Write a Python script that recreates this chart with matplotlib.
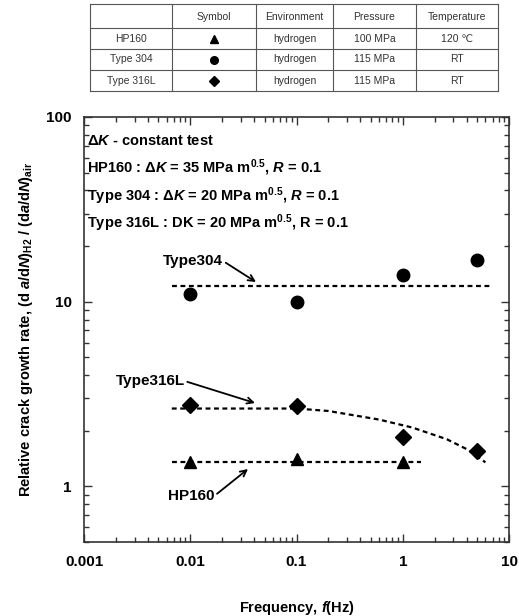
import matplotlib
matplotlib.use("Agg")
import matplotlib.pyplot as plt
from matplotlib.ticker import LogLocator, NullFormatter, FixedLocator, FixedFormatter

plt.rcParams['font.family'] = ['Liberation Sans', 'DejaVu Sans']
plt.rcParams['mathtext.fontset'] = 'custom'
plt.rcParams['mathtext.rm'] = 'Liberation Sans:bold'
plt.rcParams['mathtext.it'] = 'Liberation Sans:bold:italic'
plt.rcParams['mathtext.bf'] = 'Liberation Sans:bold'

# ---- data ----
freq = [0.01, 0.1, 1, 5]
type304 = [11.0, 10.0, 14.0, 16.9]
type316l = [2.77, 2.71, 1.86, 1.55]
hp160_freq = [0.01, 0.1, 1]
hp160 = [1.36, 1.40, 1.36]

fit304_x = [0.0067, 6.7]
fit304_y = [12.2, 12.2]
fithp_x = [0.0067, 1.5]
fithp_y = [1.35, 1.35]
fit316_x = [0.0067, 0.1, 0.2, 0.6, 1.24, 2.6, 4.1, 6.0]
fit316_y = [2.64, 2.64, 2.56, 2.30, 2.08, 1.80, 1.58, 1.35]

x_ticks = [0.001, 0.01, 0.1, 1, 10]
x_ticklabels = ['0.001', '0.01', '0.1', '1', '10']
y_ticks = [1, 10, 100]
y_ticklabels = ['1', '10', '100']

tbl_header = ['', 'Symbol', 'Environment', 'Pressure', 'Temperature']
tbl_names = ['HP160', 'Type 304', 'Type 316L']
tbl_markers = ['^', 'o', 'D']
tbl_env = ['hydrogen', 'hydrogen', 'hydrogen']
tbl_press = ['100 MPa', '115 MPa', '115 MPa']
tbl_temp = ['120 \u2103', 'RT', 'RT']

W, H = 519, 616
fig = plt.figure(figsize=(W / 100, H / 100), dpi=100)

L, R, B, T = 84, 509, 542, 117
ax = fig.add_axes([L / W, 1 - B / H, (R - L) / W, (B - T) / H])
ax.set_xscale('log')
ax.set_yscale('log')
ax.set_xlim(0.001, 10)
ax.set_ylim(0.5, 100)

dash = dict(color='black', lw=1.6, ls=(0, (2.2, 1.6)))
ax.plot(fit304_x, fit304_y, **dash)
ax.plot(fithp_x, fithp_y, **dash)
ax.plot(fit316_x, fit316_y, **dash)

ax.plot(freq, type304, 'o', color='black', ms=9, ls='none')
ax.plot(freq, type316l, 'D', color='black', ms=8, ls='none')
ax.plot(hp160_freq, hp160, '^', color='black', ms=9, ls='none')

ax.xaxis.set_major_locator(FixedLocator(x_ticks))
ax.xaxis.set_major_formatter(FixedFormatter(x_ticklabels))
ax.yaxis.set_major_locator(FixedLocator(y_ticks))
ax.yaxis.set_major_formatter(FixedFormatter(y_ticklabels))
ax.xaxis.set_minor_locator(LogLocator(base=10, subs=range(2, 10)))
ax.yaxis.set_minor_locator(LogLocator(base=10, subs=range(2, 10)))
ax.xaxis.set_minor_formatter(NullFormatter())
ax.yaxis.set_minor_formatter(NullFormatter())
ax.tick_params(which='both', direction='in', top=True, right=True, color='#333333')
ax.tick_params(which='major', length=6, width=1, labelsize=11, pad=9)
ax.tick_params(which='minor', length=3.5, width=1)
for lab in ax.get_xticklabels() + ax.get_yticklabels():
    lab.set_fontweight('bold')
for s in ax.spines.values():
    s.set_linewidth(1.2)
    s.set_color('#333333')

ax.set_xlabel(r'Frequency, $\mathit{f}$(Hz)', fontsize=10.5, fontweight='bold', labelpad=22)
ax.set_ylabel(r'Relative crack growth rate, (d $\mathit{a}$/d$\mathit{N}$)$_{\mathrm{H2}}$ / (d$\mathit{a}$/d$\mathit{N}$)$_{\mathrm{air}}$',
              fontsize=10.5, fontweight='bold', labelpad=8)

def fx(px):
    return (px - L) / (R - L)

def fy(py):
    return (B - py) / (B - T)

txt = dict(transform=ax.transAxes, fontsize=10.5, fontweight='bold', va='center', ha='left')
ax.text(fx(87), fy(141), r'$\Delta\mathit{K}$ - constant test', **txt)
ax.text(fx(87), fy(168), r'HP160 : $\Delta\mathit{K}$ = 35 MPa m$^{0.5}$, $\mathit{R}$ = 0.1', **txt)
ax.text(fx(87), fy(196), r'Type 304 : $\Delta\mathit{K}$ = 20 MPa m$^{0.5}$, $\mathit{R}$ = 0.1', **txt)
ax.text(fx(87), fy(223), r'Type 316L : DK = 20 MPa m$^{0.5}$, R = 0.1', **txt)

arrow = dict(arrowstyle='->', color='black', lw=1.3, shrinkA=0, shrinkB=0)
ax.annotate('Type304', xy=(fx(256), fy(282)), xycoords='axes fraction',
            xytext=(fx(193), fy(261)), textcoords='axes fraction',
            fontsize=11, fontweight='bold', ha='center', va='center',
            arrowprops=dict(arrow, relpos=(1.0, 0.5)))
ax.annotate('Type316L', xy=(fx(255), fy(403)), xycoords='axes fraction',
            xytext=(fx(150), fy(381)), textcoords='axes fraction',
            fontsize=11, fontweight='bold', ha='center', va='center',
            arrowprops=dict(arrow, relpos=(1.0, 0.5)))
ax.annotate('HP160', xy=(fx(248), fy(469)), xycoords='axes fraction',
            xytext=(fx(191), fy(496)), textcoords='axes fraction',
            fontsize=11, fontweight='bold', ha='center', va='center',
            arrowprops=dict(arrow, relpos=(1.0, 0.5)))

# ---- table at top (pixel overlay) ----
tx = fig.add_axes([0, 0, 1, 1], facecolor='none')
tx.set_xlim(0, W)
tx.set_ylim(H, 0)
tx.axis('off')
cols = [90, 172, 256, 333, 416, 498]
rows = [4, 28, 49, 70, 91]
for c in cols:
    tx.plot([c, c], [rows[0], rows[-1]], color='#555555', lw=0.8)
for r in rows:
    tx.plot([cols[0], cols[-1]], [r, r], color='#555555', lw=0.8)
tcol = '#333333'
tfs = 7.5
for j, h in enumerate(tbl_header):
    cx = (cols[j] + cols[j + 1]) / 2
    tx.text(cx, (rows[0] + rows[1]) / 2 + 1, h, ha='center', va='center', fontsize=tfs, color=tcol)
for i in range(3):
    cy = (rows[i + 1] + rows[i + 2]) / 2
    vals = [tbl_names[i], None, tbl_env[i], tbl_press[i], tbl_temp[i]]
    for j, v in enumerate(vals):
        cx = (cols[j] + cols[j + 1]) / 2
        if v is None:
            tx.plot([cx], [cy], tbl_markers[i], color='black', ms=5.5 if tbl_markers[i] != 'D' else 5)
        else:
            tx.text(cx, cy, v, ha='center', va='center', fontsize=tfs, color=tcol)

fig.savefig('out.png', dpi=100)
